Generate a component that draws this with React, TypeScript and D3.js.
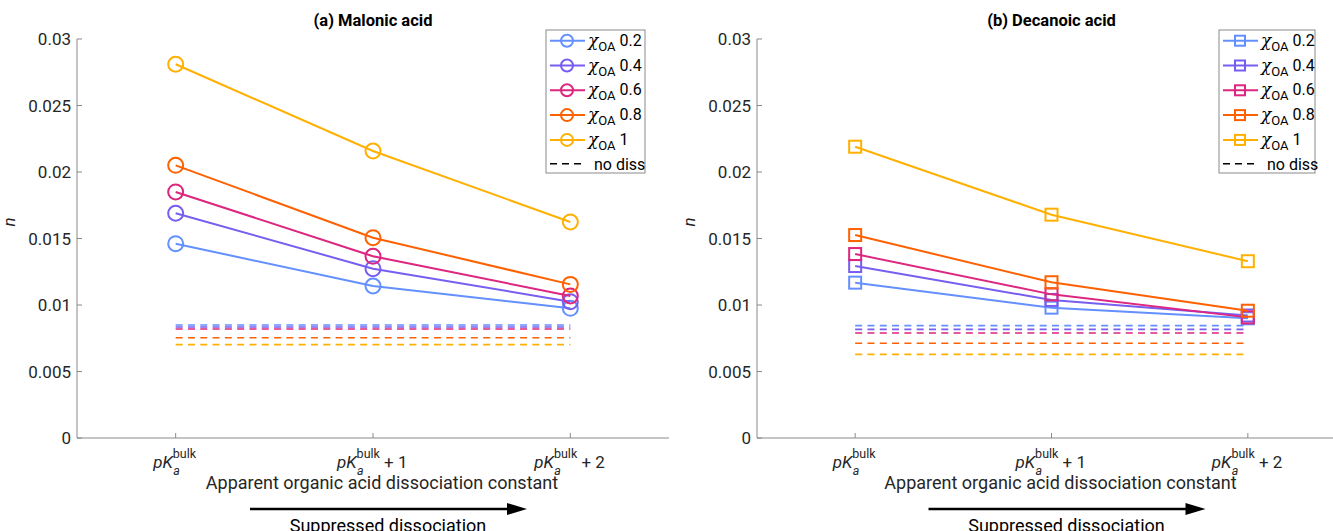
import React from 'react';
import * as d3 from 'd3';

// x positions (pKa bulk, +1, +2)
const xCats = [1, 2, 3];
const xSuffix = ['', ' + 1', ' + 2'];
const chiLabels = ['0.2', '0.4', '0.6', '0.8', '1'];
const colors = ['#648FFF', '#785EF0', '#DC267F', '#FE6100', '#FFB000'];

// (a) Malonic acid
const malonic = [
  [0.01461, 0.01143, 0.00975],
  [0.0169, 0.01273, 0.01025],
  [0.0185, 0.01366, 0.01068],
  [0.0205, 0.01506, 0.01155],
  [0.0281, 0.02158, 0.01624],
];
const malonicNoDiss = [0.0085, 0.00835, 0.0082, 0.00754, 0.00702];

// (b) Decanoic acid
const decanoic = [
  [0.01168, 0.0098, 0.009],
  [0.01293, 0.01038, 0.00921],
  [0.01383, 0.0108, 0.00907],
  [0.01526, 0.01171, 0.00957],
  [0.0219, 0.01679, 0.01329],
];
const decanoicNoDiss = [0.00845, 0.00817, 0.0079, 0.00712, 0.00629];

const yTicks = [0, 0.005, 0.01, 0.015, 0.02, 0.025, 0.03];

const FONT = 'Roboto, Arial, sans-serif';
const AXIS = '#8a8a8a';
const TXT = '#262626';

const top = 39;
const bottom = 438;

function Marker({ kind, x, y, color, r }) {
  if (kind === 'circle')
    return <circle cx={x} cy={y} r={r} fill="none" stroke={color} strokeWidth={2} />;
  return <rect x={x - r} y={y - r} width={2 * r} height={2 * r} fill="none" stroke={color} strokeWidth={2} />;
}

function Panel({ title, x0, x1, series, noDiss, kind, legendX, legendW }) {
  const x = d3.scaleLinear().domain([0.5, 3.5]).range([x0, x1]);
  const y = d3.scaleLinear().domain([0, 0.03]).range([bottom, top]);
  const line = d3.line<number>().x((_, i) => x(xCats[i])).y(d => y(d));
  const mid = (x0 + x1) / 2;
  const rows = [...chiLabels.map((l, i) => ({ l, c: colors[i] })), { l: 'no diss', c: '#000' }];

  return (
    <g fontFamily={FONT}>
      <text x={mid} y={26} textAnchor="middle" fontWeight="bold" fontSize={16.5} fill="#000">{title}</text>

      {/* axes */}
      <line x1={x0} x2={x0} y1={top} y2={bottom} stroke={AXIS} />
      <line x1={x0} x2={x1} y1={bottom} y2={bottom} stroke={AXIS} />
      {yTicks.map(t => (
        <g key={t}>
          <line x1={x0} x2={x0 + 5} y1={y(t)} y2={y(t)} stroke={AXIS} />
          <text x={x0 - 6} y={y(t) + 6} textAnchor="end" fontSize={17} fill={TXT}>{String(t)}</text>
        </g>
      ))}
      {xCats.map((c, i) => {
        const w = xSuffix[i] ? 72 : 45;
        const sx = x(c) - w / 2;
        return (
          <g key={c}>
            <line x1={x(c)} x2={x(c)} y1={bottom} y2={bottom - 5} stroke={AXIS} />
            <text x={sx} y={468} fontSize={17} fill={TXT}>
              <tspan fontStyle="italic">pK</tspan>
              <tspan fontSize={12.5} dy={-10}>bulk</tspan>
              <tspan dy={10}>{xSuffix[i]}</tspan>
            </text>
            <text x={sx + 20} y={475} fontSize={12.5} fontStyle="italic" fill={TXT}>a</text>
          </g>
        );
      })}
      <text transform={`translate(${x0 - 62},222) rotate(-90)`} textAnchor="middle" fontSize={17} fontStyle="italic" fill={TXT}>n</text>
      <text x={mid + 9} y={489} textAnchor="middle" fontSize={18} fill={TXT}>Apparent organic acid dissociation constant</text>

      {/* arrow */}
      <line x1={mid - 123} x2={mid + 136} y1={509} y2={509} stroke="#000" strokeWidth={2.5} />
      <path d={`M${mid + 134},${503} L${mid + 154},${509} L${mid + 134},${515} Z`} fill="#000" />
      <text x={mid + 15} y={532} textAnchor="middle" fontSize={18} fill="#000">Suppressed dissociation</text>

      {/* no-dissociation reference lines */}
      {noDiss.map((v, i) => (
        <line key={'nd' + i} x1={x(1)} x2={x(3)} y1={y(v)} y2={y(v)} stroke={colors[i]} strokeWidth={1.6} strokeDasharray="7,5.3" />
      ))}

      {/* series */}
      {series.map((s, i) => (
        <g key={'s' + i}>
          <path d={line(s) || ''} fill="none" stroke={colors[i]} strokeWidth={2} />
          {s.map((v, j) => (
            <Marker key={j} kind={kind} x={x(xCats[j])} y={y(v)} color={colors[i]} r={kind === 'circle' ? 7.5 : 6} />
          ))}
        </g>
      ))}

      {/* legend */}
      <rect x={legendX} y={30} width={legendW} height={143} fill="#fff" stroke={AXIS} />
      {rows.map((r, i) => {
        const cy = 40.7 + i * 24.8;
        const lx = legendX + 4;
        if (r.l === 'no diss')
          return (
            <g key="nd">
              <line x1={lx} x2={lx + 35} y1={cy - 1} y2={cy - 1} stroke="#000" strokeWidth={1.5} strokeDasharray="7,5" />
              <text x={lx + 44} y={cy + 5} fontSize={16} fill="#000">no diss</text>
            </g>
          );
        return (
          <g key={r.l}>
            <line x1={lx} x2={lx + 35} y1={cy} y2={cy} stroke={r.c} strokeWidth={2} />
            <Marker kind={kind} x={lx + 17} y={cy} color={r.c} r={kind === 'circle' ? 6 : 5} />
            <text x={lx + 38} y={cy + 5} fontSize={16} fill="#000">
              <tspan fontFamily="'DejaVu Serif', serif" fontStyle="italic" fontSize={17}>χ</tspan>
              <tspan fontSize={13} dy={5}>OA</tspan>
              <tspan dy={-5}> {r.l}</tspan>
            </text>
          </g>
        );
      })}
    </g>
  );
}

export default function App() {
  return (
    <svg width={1333} height={531} style={{ position: 'absolute', left: 0, top: 0, background: '#fff' }}>
      <rect width={1333} height={531} fill="#fff" />
      <Panel title="(a) Malonic acid" x0={77} x1={669} series={malonic} noDiss={malonicNoDiss} kind="circle" legendX={546} legendW={99} />
      <Panel title="(b) Decanoic acid" x0={757} x1={1346} series={decanoic} noDiss={decanoicNoDiss} kind="square" legendX={1219} legendW={96} />
    </svg>
  );
}
